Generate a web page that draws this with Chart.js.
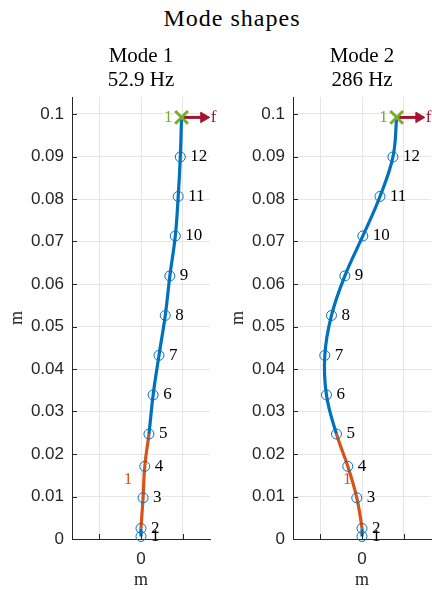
<!DOCTYPE html>
<html>
<head>
<meta charset="utf-8">
<script src="https://cdn.jsdelivr.net/npm/chart.js@4"></script>
<style>
html, body { margin: 0; padding: 0; background: #fff; overflow: hidden; }
body { width: 432px; height: 590px; position: relative; }
#figTitle {
	position: absolute; left: 132px; width: 200px; top: 6px;
	text-align: center; white-space: nowrap; color: #000;
	font: 24px "Liberation Serif", serif; line-height: 24px; letter-spacing: 1px;
}
.panel { position: absolute; top: 0; width: 222px; height: 590px; }
</style>
</head>
<body>
<div id="figTitle">Mode shapes</div>
<div class="panel" style="left:0"><canvas id="mode1"></canvas></div>
<div class="panel" style="left:221px"><canvas id="mode2"></canvas></div>
<script>
// node heights along the beam (m) and their labels
const nodeLabels = ["1","2","3","4","5","6","7","8","9","10","11","12"];
const nodeY = [0.0006, 0.0025, 0.0097, 0.0171, 0.0247, 0.0339, 0.0432, 0.0526, 0.0619, 0.0713, 0.0806, 0.0899];

// lateral deflection of each node, per mode
const mode1X = [0, 0, 0.05, 0.09, 0.19, 0.29, 0.43, 0.58, 0.69, 0.82, 0.89, 0.94];
const mode2X = [0, 0, -0.125, -0.34, -0.61, -0.85, -0.89, -0.73, -0.41, 0.02, 0.43, 0.74];

// loaded tip point (where the force acts)
const tipY = 0.0992;
const mode1TipX = 0.97;
const mode2TipX = 0.83;

const modeNames = ["Mode 1", "Mode 2"];
const modeFreqs = ["52.9 Hz", "286 Hz"];

const yTicks = [0, 0.01, 0.02, 0.03, 0.04, 0.05, 0.06, 0.07, 0.08, 0.09, 0.1];
const xTicks = [-1, 0, 1];

// element 1 spans nodes 2..5 (segment index 1 to 3)
const elemFirstSeg = 1;
const elemLastSeg = 3;

const blue = "#0072BD";
const orange = "#D95319";
const green = "#77AC30";
const red = "#A2142F";
const axisColor = "#262626";
const gridColor = "#e6e6e6";
const serif = '"Liberation Serif", "Times New Roman", serif';

Chart.defaults.font.family = '"Liberation Sans", Arial, sans-serif';

// matlab style ticks pointing into the axes
const innerTicks = {
	id: "innerTicks",
	afterDraw(chart) {
		const {ctx, chartArea, scales} = chart;
		ctx.save();
		ctx.strokeStyle = axisColor;
		ctx.lineWidth = 1;
		ctx.beginPath();
		scales.y.ticks.forEach(t => {
			let py = Math.round(scales.y.getPixelForValue(t.value)) + 0.5;
			ctx.moveTo(chartArea.left, py);
			ctx.lineTo(chartArea.left + 5, py);
		});
		scales.x.ticks.forEach(t => {
			let px = Math.round(scales.x.getPixelForValue(t.value)) + 0.5;
			ctx.moveTo(px, chartArea.bottom);
			ctx.lineTo(px, chartArea.bottom - 5);
		});
		ctx.stroke();
		ctx.restore();
	}
};

// node numbers, element number, load number and force name
const shapeLabels = {
	id: "shapeLabels",
	beforeDatasetsDraw(chart) {
		const {ctx, scales} = chart;
		const o = chart.options.plugins.shapeLabels;
		ctx.save();
		ctx.font = "17px " + serif;
		ctx.textBaseline = "middle";
		ctx.textAlign = "center";
		ctx.fillStyle = orange;
		ctx.fillText("1", scales.x.getPixelForValue(o.elemX), scales.y.getPixelForValue(o.elemY));
		ctx.restore();
	},
	afterDatasetsDraw(chart) {
		const {ctx} = chart;
		ctx.save();
		ctx.font = "17px " + serif;
		ctx.textBaseline = "middle";
		ctx.textAlign = "left";
		ctx.fillStyle = "#000";
		let nodes = chart.getDatasetMeta(2).data;
		nodes.forEach((p, i) => ctx.fillText(nodeLabels[i], p.x + 10, p.y));

		let tip = chart.getDatasetMeta(0).data[0];
		ctx.fillStyle = green;
		ctx.textAlign = "right";
		ctx.fillText("1", tip.x - 9, tip.y);

		let head = chart.getDatasetMeta(1).data[1];
		ctx.fillStyle = red;
		ctx.textAlign = "left";
		ctx.fillText("f", head.x + 7, head.y);
		ctx.restore();
	}
};

function DrawModeShape(canvasID, idx, xs, tipX, elemX, elemY)
{
	let curve = xs.map((x, i) => ({x: x, y: nodeY[i]}));
	curve.push({x: tipX, y: tipY});
	let nodes = xs.map((x, i) => ({x: x, y: nodeY[i]}));
	const forceLen = 0.53;

	new Chart(canvasID, {
		type: "scatter",
		data: {
			datasets: [
				{ // load point
					data: [{x: tipX, y: tipY}],
					pointStyle: "crossRot", pointRadius: 9, pointBorderWidth: 3,
					borderColor: green, backgroundColor: green, clip: false
				},
				{ // force arrow
					data: [{x: tipX, y: tipY}, {x: tipX + forceLen, y: tipY}],
					showLine: true, borderColor: red, borderWidth: 3,
					pointStyle: "triangle", pointRotation: 90, pointRadius: [0, 6],
					pointBorderWidth: 1, pointBorderColor: red, pointBackgroundColor: red, clip: false
				},
				{ // nodes
					data: nodes,
					pointStyle: "circle", pointRadius: 5, pointBorderWidth: 1,
					borderColor: blue, backgroundColor: "rgba(0,0,0,0)", clip: false
				},
				{ // deformed shape
					data: curve,
					showLine: true, pointRadius: 0, borderWidth: 3.2, tension: 0.4,
					borderColor: blue, clip: false,
					segment: {
						borderColor: c => (c.p0DataIndex >= elemFirstSeg && c.p0DataIndex <= elemLastSeg) ? orange : blue
					}
				}
			]
		},
		options: {
			responsive: true,
			maintainAspectRatio: false,
			animation: false,
			layout: {padding: {left: 0, right: 10, top: 0, bottom: 0}},
			plugins: {
				legend: {display: false},
				tooltip: {enabled: false},
				title: {
					display: true, fullSize: false,
					text: [modeNames[idx], modeFreqs[idx]],
					color: "#000",
					font: {family: serif, size: 21, weight: "normal", lineHeight: 1.15},
					padding: {top: 44, bottom: 4.7}
				},
				shapeLabels: {elemX: elemX, elemY: elemY}
			},
			scales: {
				x: {
					type: "linear", min: -1.65, max: 1.65,
					afterBuildTicks: s => { s.ticks = xTicks.map(v => ({value: v})); },
					afterFit: s => { s.height = 51; },
					grid: {color: gridColor, drawTicks: false},
					border: {color: axisColor},
					ticks: {
						padding: 10, color: axisColor, autoSkip: false, maxRotation: 0,
						font: {size: 17},
						callback: v => v === 0 ? "0" : ""
					},
					title: {display: true, text: "m", color: axisColor, font: {family: serif, size: 18}, padding: {top: 0, bottom: -1}}
				},
				y: {
					type: "linear", min: 0, max: 0.104,
					afterBuildTicks: s => { s.ticks = yTicks.map(v => ({value: v})); },
					afterFit: s => { s.width = 72; },
					grid: {color: gridColor, drawTicks: false},
					border: {color: axisColor},
					ticks: {
						padding: 8, color: axisColor, autoSkip: false,
						font: {size: 17},
						callback: v => String(Number(v.toFixed(2)))
					},
					title: {display: true, text: "m", color: axisColor, font: {family: serif, size: 18}, padding: {top: 6, bottom: 0}}
				}
			}
		},
		plugins: [innerTicks, shapeLabels]
	});
}

DrawModeShape("mode1", 0, mode1X, mode1TipX, -0.31, 0.0139);
DrawModeShape("mode2", 1, mode2X, mode2TipX, -0.35, 0.0139);
</script>
</body>
</html>
